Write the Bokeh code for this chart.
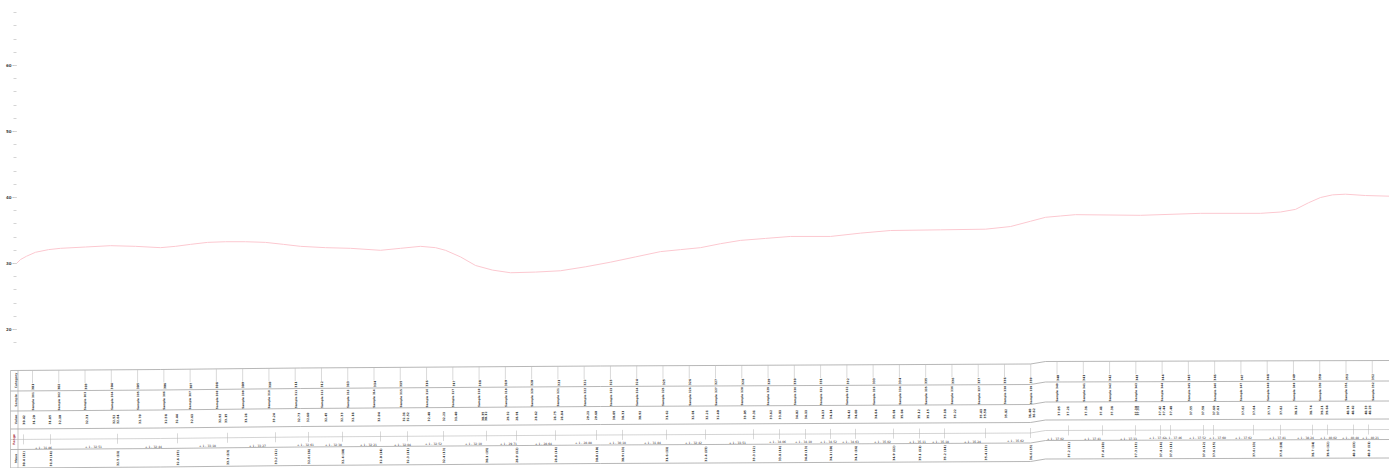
from bokeh.plotting import figure
from bokeh.models import Range1d, SingleIntervalTicker
from bokeh.core.properties import value
from bokeh.embed import file_html
from bokeh.resources import INLINE
import numpy as np

# ---- data ----
line_pos = [16,20,26,35,48,60,85,110,135,160,175,190,207,225,245,265,283,300,325,350,380,400,420,435,445,460,475,492,510,535,560,585,610,635,660,680,700,720,740,765,790,830,860,890,940,985,1010,1030,1045,1060,1075,1140,1200,1260,1280,1295,1308,1320,1332,1345,1365,1389]
line_val = [30.0,30.6,31.1,31.7,32.1,32.3,32.5,32.7,32.6,32.4,32.6,32.9,33.2,33.3,33.3,33.2,32.9,32.6,32.4,32.3,32.0,32.3,32.6,32.4,32.0,31.0,29.7,29.0,28.6,28.7,28.9,29.5,30.2,31.0,31.8,32.1,32.4,33.0,33.5,33.8,34.1,34.1,34.6,35.0,35.1,35.2,35.6,36.4,37.0,37.2,37.4,37.3,37.6,37.6,37.8,38.2,39.2,40.0,40.4,40.5,40.3,40.2]

row1 = [301,302,303,304,305,306,307,308,309,310,311,312,313,314,315,316,317,318,319,320,321,322,323,324,325,326,327,328,329,330,331,332,333,334,335,336,337,338,339,340,341,342,343,344,345,346,347,348,349,350,351,352]
row3_x = [23,33,49,59,86,113,117,139,165,176,191,219,225,245,273,298,307,325,341,352,378,403,407,428,443,455,482,485,507,516,535,554,561,587,595,613,622,639,666,692,706,717,744,753,770,779,796,805,822,830,848,855,875,893,901,918,927,944,954,980,984,1005,1029,1033,1058,1067,1085,1100,1111,1135,1137,1159,1163,1170,1190,1202,1213,1217,1242,1253,1268,1280,1295,1310,1321,1326,1347,1352,1365,1369]
row3 = ["30.42","31.20","31.85","32.10","32.31","32.52","32.64","32.70","32.58","32.44","32.61","32.92","33.15","33.28","33.24","32.73","32.60","32.45","32.33","32.18","32.04","32.31","32.52","32.48","32.21","31.40","30.35","30.12","29.32","28.91","28.62","28.75","28.84","29.21","29.60","30.05","30.31","30.92","31.62","32.01","32.21","32.40","33.05","33.31","33.62","33.81","34.02","34.11","34.13","34.14","34.42","34.60","34.84","35.01","35.04","35.12","35.15","35.18","35.22","35.41","35.50","35.82","36.40","36.62","37.05","37.21","37.36","37.41","37.38","37.30","37.31","37.42","37.44","37.48","37.55","37.58","37.60","37.61","37.62","37.64","37.71","37.82","38.12","38.74","39.21","39.64","40.31","40.42","40.33","40.25"]
row4_x = [43,93,153,207,257,305,333,368,402,433,473,508,543,583,617,652,693,737,777,803,828,850,882,917,940,972,1015,1055,1092,1128,1157,1173,1197,1217,1243,1277,1305,1328,1350,1370]
row4 = ["31.86","32.51","32.44","33.18","33.27","32.61","32.38","32.21","32.04","32.52","32.10","29.71","28.64","28.88","30.18","31.84","32.42","33.51","34.06","34.10","34.52","34.63","35.02","35.11","35.18","35.24","35.62","37.02","37.41","37.33","37.42","37.46","37.52","37.60","37.62","37.81","38.24","40.02","40.48","40.21"]
row5_x = [23,50,117,177,227,275,308,342,380,407,443,486,516,555,596,622,666,705,753,779,805,830,855,893,919,944,985,1030,1068,1102,1135,1160,1170,1203,1213,1253,1280,1312,1327,1353,1368]
row5 = ["30.4 (12)","31.9 (14)","32.5 (11)","32.6 (15)","33.3 (13)","33.2 (12)","32.6 (16)","32.4 (10)","32.0 (14)","32.3 (11)","32.4 (13)","30.1 (15)","28.9 (12)","28.8 (14)","30.0 (10)","30.9 (13)","31.6 (11)","32.4 (15)","33.3 (12)","33.8 (14)","34.0 (13)","34.1 (10)","34.1 (16)","34.9 (12)","35.1 (11)","35.2 (14)","35.4 (13)","36.6 (15)","37.2 (12)","37.4 (10)","37.3 (13)","37.4 (14)","37.5 (11)","37.6 (12)","37.6 (15)","37.6 (13)","37.8 (10)","38.7 (14)","39.6 (12)","40.3 (13)","40.3 (11)"]
headers = ["Category", "Sample", "Value", "Range", "Mean"]
header_colors = ["#555555", "#555555", "#555555", "#b04050", "#555555"]

# ---- layout of the table ----
W, H = 1389, 468
chart_h = 350
top_x = [10, 160, 300, 600, 1030, 1045, 1389]
top_y = [370, 369, 367.5, 365.5, 363.5, 361, 360]
row_off = [0, 20.5, 40.5, 58.5, 79, 97.5]
def top(x):
    return np.interp(x, top_x, top_y)

p = figure(width=W, height=chart_h, output_backend="svg", toolbar_location=None,
           x_range=Range1d(16, 1389), y_range=Range1d(30 - 87 / 6.6, 30 + 263 / 6.6),
           min_border_left=16, min_border_right=0, min_border_top=0, min_border_bottom=0,
           x_axis_location=None, outline_line_color=None)
p.grid.visible = False
ax = p.yaxis[0]
ax.ticker = SingleIntervalTicker(interval=10, num_minor_ticks=5)
ax.major_label_text_font = "DejaVu Sans"
ax.major_label_text_font_size = "4px"
ax.major_label_text_font_style = "bold"
ax.major_label_text_color = "#444444"
ax.major_label_standoff = 1
ax.axis_line_color = None
ax.major_tick_line_color = "#c0c0c0"
ax.minor_tick_line_color = "#d4d4d4"
ax.major_tick_in = 0
ax.major_tick_out = 4
ax.minor_tick_in = 0
ax.minor_tick_out = 3
p.line(line_pos, line_val, line_color="#fcc8d0", line_width=1)

t = figure(width=W, height=H - chart_h, output_backend="svg", toolbar_location=None,
           x_range=Range1d(0, 1389), y_range=Range1d(468, chart_h),
           min_border=0, x_axis_location=None, y_axis_location=None, outline_line_color=None)
t.grid.visible = False

xs = np.array(sorted(set(top_x)), dtype=float)
t.multi_line([list(xs)] * len(row_off), [list(top(xs) + o) for o in row_off],
             line_color="#a4a4a4", line_width=0.8)
t.multi_line([[10, 10], [17.5, 17.5]], [[370, 468], [370, 468]], line_color="#b0b0b0", line_width=0.7)

col_x = 32 + np.arange(len(row1)) * 26.27
t.segment(col_x, top(col_x), col_x, top(col_x) + 13, line_color="#c0c0c0", line_width=0.6)
rx5 = np.array(row5_x, dtype=float)
t.segment(rx5, top(rx5) + 64, rx5, top(rx5) + 74, line_color="#c0c0c0", line_width=0.6)
t.line(xs, top(xs) + 69, line_color="#b8b8b8", line_width=0.6)

def vtext(x, y, labels, size="3px", color="#333333"):
    t.text(x, y, text=labels, angle=np.pi / 2, text_align="center", text_baseline="middle",
           text_font=value("DejaVu Sans"), text_font_size=size, text_font_style="bold", text_color=color)

vtext(col_x, top(col_x) + 16.5, [str(c) for c in row1])
vtext(col_x, top(col_x) + 31, [f"Sample {c}" for c in row1], size="2.8px")
rx3 = np.array(row3_x, dtype=float)
vtext(rx3, top(rx3) + 49.5, row3)
rx4 = np.array(row4_x, dtype=float)
t.text(rx4, top(rx4) + 77, text=[f"+ 1 - {v}" for v in row4], text_align="center", text_baseline="middle",
       text_font=value("DejaVu Sans"), text_font_size="3px", text_color="#333333")
vtext(rx5, top(rx5) + 88.5, row5, size="3px")

hx = [15, 15, 15, 13, 15]
hy = [380, 400, 419, 439, 458]
vtext(hx, hy, headers, color=header_colors)

open("out.html", "w").write(file_html([p, t], INLINE))
